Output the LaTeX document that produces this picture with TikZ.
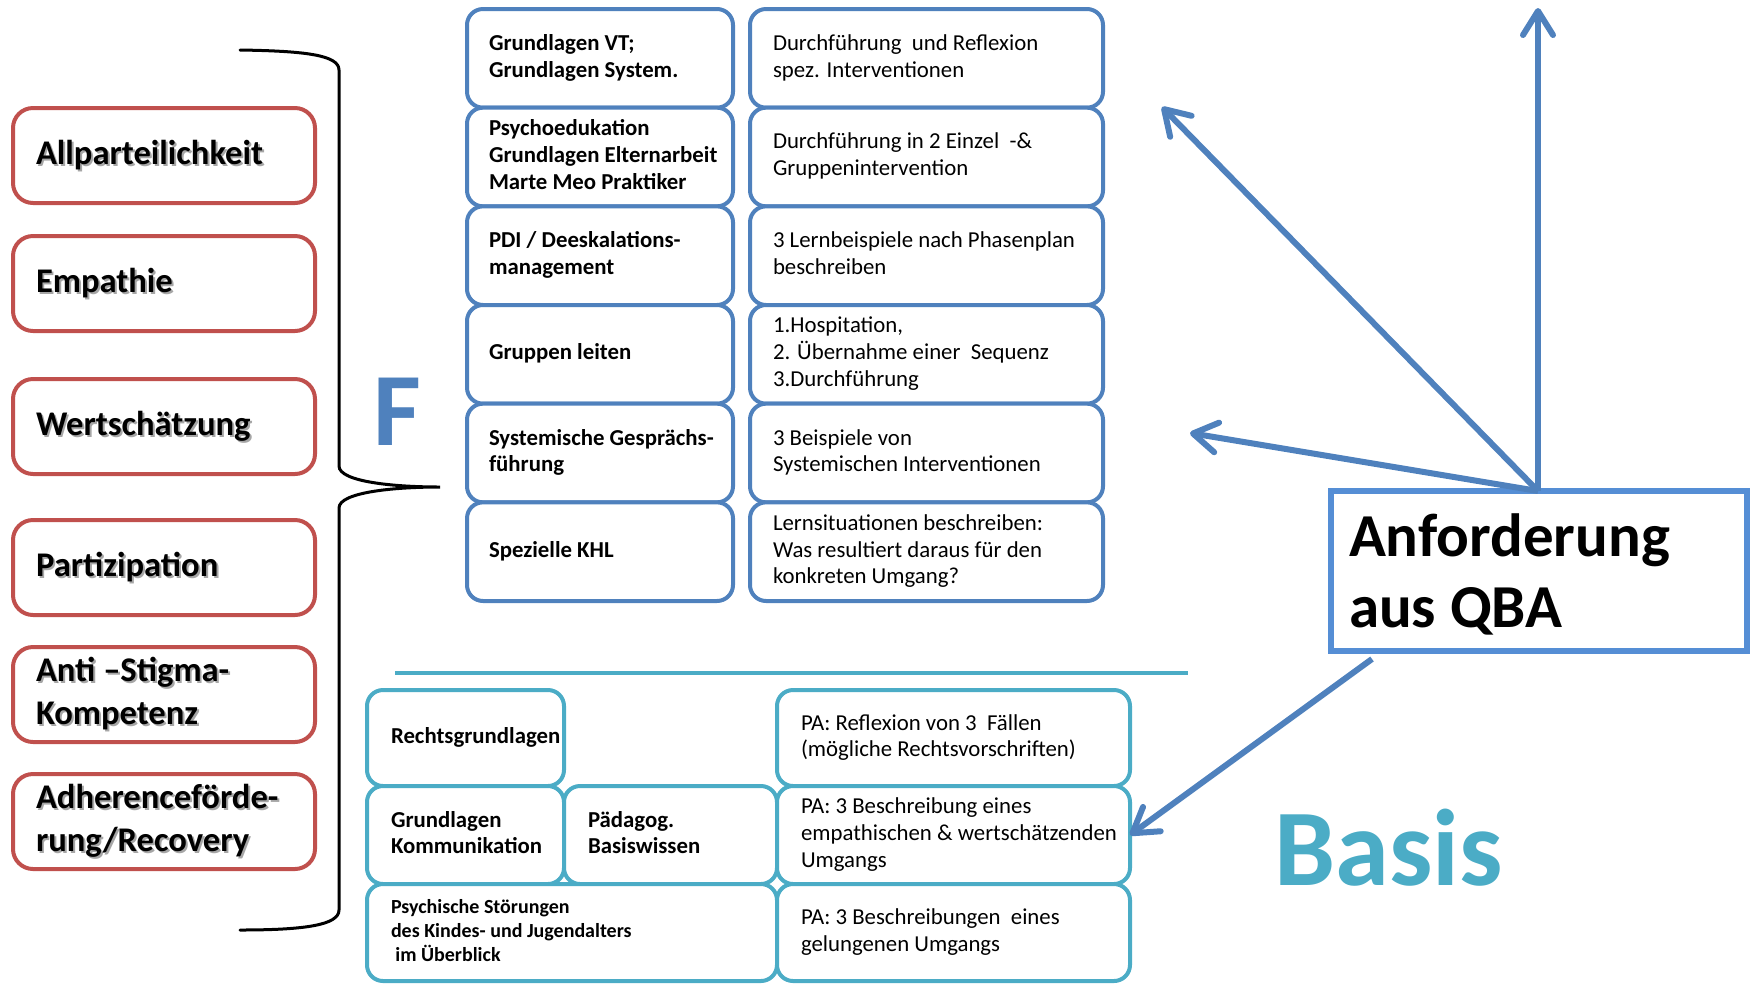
\documentclass[tikz,border=0pt]{standalone}
\usepackage{fontspec}
\setmainfont{Carlito}
\usetikzlibrary{arrows.meta}
\definecolor{cred}{HTML}{C0504D}
\definecolor{cblue}{HTML}{4F81BD}
\definecolor{caqua}{HTML}{4BACC6}
\definecolor{cqba}{HTML}{558ED5}
\newcommand{\tl}[3]{\makebox[#1][l]{\hspace*{#2}\begin{tabular}{@{}l@{}}#3\end{tabular}}}
\newcommand{\shd}[1]{\leavevmode\rlap{\kern1pt\raisebox{-1pt}{\textcolor{black!35}{#1}}}#1}
\begin{document}
\begin{tikzpicture}[x=0.5pt,y=-0.5pt,
 box/.style={draw, line width=2pt, fill=white, rounded corners=8pt, outer sep=0pt,
   inner xsep=1pt, inner ysep=0pt, anchor=north west},
 redbox/.style={box, draw=cred, rounded corners=10pt, minimum width=151pt,
   minimum height=47.5pt, font=\fontsize{17.3pt}{21.5pt}\selectfont\bfseries},
 lbox/.style={box, draw=cblue, minimum width=133pt, minimum height=49.33pt,
   font=\fontsize{11.4pt}{13.35pt}\selectfont\bfseries},
 rbox/.style={box, draw=cblue, minimum width=176.5pt, minimum height=49.33pt,
   font=\fontsize{11.4pt}{13.35pt}\selectfont},
 abox/.style={box, draw=caqua, font=\fontsize{11.4pt}{13.35pt}\selectfont\bfseries},
 cbox/.style={box, draw=caqua, minimum width=176.5pt,
   font=\fontsize{11.4pt}{13.35pt}\selectfont},
 qbabox/.style={draw=cqba, line width=3pt, fill=white, outer sep=0pt, inner xsep=1pt, inner ysep=0pt,
   anchor=north west, minimum width=208pt, minimum height=80pt,
   font=\fontsize{30.5pt}{35.5pt}\selectfont\bfseries},
 arr/.style={draw=cblue, line width=3pt, -{Straight Barb[length=12pt,width=15pt,round]}},
 bigtext/.style={anchor=base west, inner sep=0pt, font=\bfseries}
]
\useasboundingbox (0,0) rectangle (1758,987);

% left red boxes
\node[redbox] (r1) at (13,108) {\tl{149pt}{10.5pt}{\shd{Allparteilichkeit}}};
\node[redbox] (r2) at (13,236) {\tl{149pt}{10.5pt}{\shd{Empathie}}};
\node[redbox] (r3) at (13,379) {\tl{149pt}{10.5pt}{\shd{Wertschätzung}}};
\node[redbox] (r4) at (13,520) {\tl{149pt}{10.5pt}{\shd{Partizipation}}};
\node[redbox] (r5) at (13,647) {\tl{149pt}{10.5pt}{\shd{Anti –Stigma-}\\\shd{Kompetenz}}};
\node[redbox] (r6) at (13,774) {\tl{149pt}{10.5pt}{\shd{Adherenceförde-}\\\shd{rung/Recovery}}};

% brace
\draw[line width=1.5pt, line cap=round] (240,50) .. controls (305,51) and (339,55) .. (339,70)
  -- (339,466) .. controls (339,482) and (395,487) .. (440,487)
  .. controls (395,487) and (339,492) .. (339,508)
  -- (339,910) .. controls (339,925) and (305,930) .. (240,930);

\node[bigtext, text=cblue, font=\fontsize{52pt}{60pt}\selectfont\bfseries] (F) at (373,445) {F};

% top table
\node[lbox] (l1) at (467,9)      {\tl{131pt}{10pt}{Grundlagen VT;\\Grundlagen System.}};
\node[lbox] (l2) at (467,107.67) {\tl{131pt}{10pt}{Psychoedukation\\Grundlagen Elternarbeit\\Marte Meo Praktiker}};
\node[lbox] (l3) at (467,206.33) {\tl{131pt}{10pt}{PDI / Deeskalations-\\management}};
\node[lbox] (l4) at (467,305)    {\tl{131pt}{10pt}{Gruppen leiten}};
\node[lbox] (l5) at (467,403.67) {\tl{131pt}{10pt}{Systemische Gesprächs-\\führung}};
\node[lbox] (l6) at (467,502.33) {\tl{131pt}{10pt}{Spezielle KHL}};

\node[rbox] (m1) at (750,9)      {\tl{174.5pt}{10.5pt}{Durchführung\ \ und Reflexion\\spez. Interventionen}};
\node[rbox] (m2) at (750,107.67) {\tl{174.5pt}{10.5pt}{Durchführung in 2 Einzel\ \ -\&\\Gruppenintervention}};
\node[rbox] (m3) at (750,206.33) {\tl{174.5pt}{10.5pt}{3 Lernbeispiele nach Phasenplan\\beschreiben}};
\node[rbox] (m4) at (750,305)    {\tl{174.5pt}{10.5pt}{1.Hospitation,\\2. Übernahme einer\ \ Sequenz\\3.Durchführung}};
\node[rbox] (m5) at (750,403.67) {\tl{174.5pt}{10.5pt}{3 Beispiele von\\Systemischen Interventionen}};
\node[rbox] (m6) at (750,502.33) {\tl{174.5pt}{10.5pt}{Lernsituationen beschreiben:\\Was resultiert daraus für den\\konkreten Umgang?}};

% separator
\coordinate (h1) at (395,673);
\coordinate (h2) at (1188,673);
\draw[caqua, line width=2pt] (h1) -- (h2);

% bottom table
\node[abox, minimum width=98.5pt, minimum height=48pt] (b1) at (367,690) {\tl{96.5pt}{11pt}{Rechtsgrundlagen}};
\node[abox, minimum width=98.5pt, minimum height=49pt] (b2) at (367,786) {\tl{96.5pt}{11pt}{Grundlagen\\Kommunikation}};
\node[abox, minimum width=106.5pt, minimum height=49pt] (b3) at (564,786) {\tl{104.5pt}{11pt}{Pädagog.\\Basiswissen}};
\node[abox, minimum width=205pt, minimum height=48.5pt,
  font=\fontsize{10pt}{12pt}\selectfont\bfseries] (b4) at (367,884)
  {\tl{203pt}{11pt}{Psychische Störungen\\des Kindes- und Jugendalters\\\hspace*{2.2pt}im Überblick}};

\node[cbox, minimum height=48pt] (c1) at (777,690) {\tl{174.5pt}{11pt}{PA: Reflexion von 3\ \ Fällen\\(mögliche Rechtsvorschriften)}};
\node[cbox, minimum height=49pt] (c2) at (777,786) {\tl{174.5pt}{11pt}{PA: 3 Beschreibung eines\\empathischen \& wertschätzenden\\Umgangs}};
\node[cbox, minimum height=48.5pt] (c3) at (777,884) {\tl{174.5pt}{11pt}{PA: 3 Beschreibungen\ \ eines\\gelungenen Umgangs}};

% Anforderung box and arrows
\node[qbabox] (qba) at (1331,491) {\raisebox{-3.5pt}[\height][\depth]{\tl{206pt}{8pt}{Anforderung\\aus QBA}}};
\coordinate (o) at (1538,491);
\coordinate (tu) at (1538,8);
\coordinate (td) at (1162,107);
\coordinate (ts) at (1190,433);
\coordinate (qs) at (1372,659);
\draw[arr] (o) -- (tu);
\draw[arr] (o) -- (td);
\draw[arr] (o) -- (ts);
\draw[arr] (qs) -- (c2.east);

\node[bigtext, text=caqua, font=\fontsize{54.5pt}{60pt}\selectfont\bfseries] (basis) at (1274,885) {Basis};
\end{tikzpicture}
\end{document}
